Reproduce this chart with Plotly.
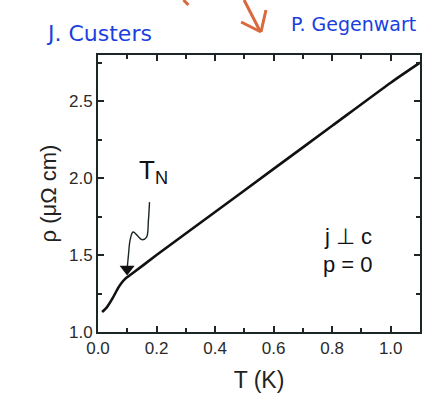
import plotly.graph_objects as go

# Resistivity curve rho(T)
T_K = [0.014, 0.03, 0.05, 0.07, 0.085, 0.095, 0.11, 0.2, 0.4, 0.6, 0.8, 1.0, 1.1]
rho = [1.13, 1.16, 1.22, 1.29, 1.33, 1.35, 1.37, 1.50, 1.78, 2.06, 2.34, 2.62, 2.75]

# Squiggly T_N pointer line
squig_T = [0.176, 0.172, 0.166, 0.150, 0.120, 0.110, 0.104, 0.101, 0.100]
squig_rho = [1.844, 1.72, 1.617, 1.60, 1.65, 1.60, 1.50, 1.44, 1.42]
tip_T = [0.0995]
tip_rho = [1.41]

x_ticks = [0.0, 0.2, 0.4, 0.6, 0.8, 1.0]
y_ticks = [1.0, 1.5, 2.0, 2.5]

ink = "#1c2626"
font = "Liberation Sans, Arial, sans-serif"
orange = "#d9683c"

ML, MR, MT, MB = 98, 11, 55, 69
W, H = 433 - ML - MR, 401 - MT - MB
def px(x, y):
    return (x - ML) / W, (401 - MB - y) / H

fig = go.Figure()
fig.add_trace(go.Scatter(x=T_K, y=rho, mode="lines",
                         line=dict(color="#111", width=2.6, shape="spline", smoothing=0.6), hoverinfo="skip"))
fig.add_trace(go.Scatter(x=squig_T, y=squig_rho, mode="lines",
                         line=dict(color=ink, width=1.4, shape="spline"), hoverinfo="skip"))
fig.add_trace(go.Scatter(x=tip_T, y=tip_rho, mode="markers",
                         marker=dict(symbol="triangle-down", size=13, color="#111"), hoverinfo="skip"))

fig.add_annotation(x=0.19, y=2.04, xref="x", yref="y", text="T<sub>N</sub>", showarrow=False,
                   xanchor="center", yanchor="middle",
                   font=dict(family=font, size=26, color="#111"))
fig.add_annotation(x=0.855, y=1.62, xref="x", yref="y", text="j \u22a5 c", showarrow=False,
                   xanchor="center", yanchor="middle",
                   font=dict(family=font, size=22, color="#111"))
fig.add_annotation(x=0.855, y=1.44, xref="x", yref="y", text="p = 0", showarrow=False,
                   xanchor="center", yanchor="middle",
                   font=dict(family=font, size=22, color="#111"))

# handwritten notes
hx, hy = px(99, 33)
fig.add_annotation(x=hx, y=hy, xref="paper", yref="paper", text="J. Custers", showarrow=False,
                   xanchor="center", yanchor="middle",
                   font=dict(family="DejaVu Sans", size=22, color="#1a3fe0"))
gx, gy = px(290, 24)
fig.add_annotation(x=gx, y=gy, xref="paper", yref="paper", text="P. Gegenwart", showarrow=False,
                   xanchor="left", yanchor="middle",
                   font=dict(family="DejaVu Sans", size=19, color="#1a3fe0"))

def seg(x0, y0, x1, y1):
    a0, b0 = px(x0, y0)
    a1, b1 = px(x1, y1)
    fig.add_shape(type="line", xref="paper", yref="paper", x0=a0, y0=b0, x1=a1, y1=b1,
                  line=dict(color=orange, width=3))

seg(245, 0, 261, 31)
seg(242, 22, 262, 32)
seg(267, 10, 262, 32)
seg(184, 0, 189, 5)

fig.update_layout(
    width=433, height=401,
    margin=dict(l=ML, r=MR, t=MT, b=MB),
    paper_bgcolor="white", plot_bgcolor="white",
    showlegend=False,
    font=dict(family=font, color="#333"),
)

axis_common = dict(showline=True, linecolor=ink, linewidth=2, mirror="allticks", ticks="inside",
                   tickcolor=ink, ticklen=6, tickwidth=1.5, showgrid=False, zeroline=False,
                   tickfont=dict(family=font, size=17, color="#2a2a2a"))
fig.update_xaxes(range=[0, 1.1], tickvals=x_ticks, ticktext=[f"{v:.1f}" for v in x_ticks],
                 minor=dict(dtick=0.1, ticks="inside", ticklen=4, tickcolor=ink),
                 title=dict(text="T (K)", font=dict(family=font, size=23, color="#222"), standoff=14),
                 **axis_common)
fig.update_yaxes(range=[1.0, 2.8], tickvals=y_ticks, ticktext=[f"{v:.1f}" for v in y_ticks],
                 minor=dict(dtick=0.25, ticks="inside", ticklen=4, tickcolor=ink),
                 title=dict(text="\u03c1 (\u03bc\u03a9 cm)", font=dict(family=font, size=22, color="#222"), standoff=6),
                 **axis_common)

fig.write_html("out.html")
